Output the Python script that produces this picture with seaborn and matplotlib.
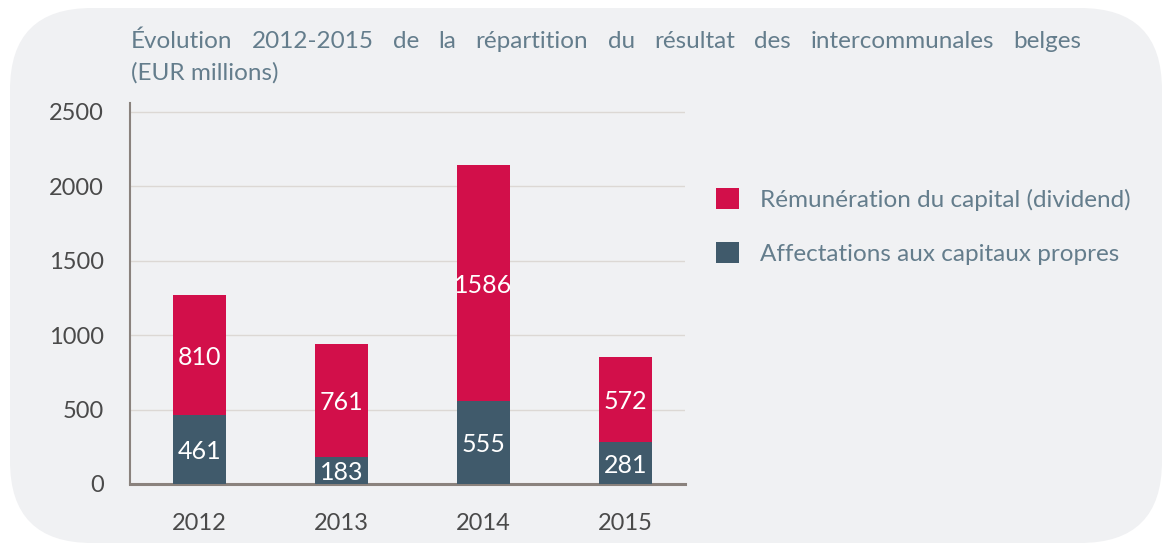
import matplotlib
matplotlib.use("Agg")
import matplotlib.pyplot as plt
import seaborn as sns
import pandas as pd
from matplotlib.patches import FancyBboxPatch, Patch

years = ["2012", "2013", "2014", "2015"]
affectations = [461, 183, 555, 281]
remuneration = [810, 761, 1586, 572]
series_names = ["Rémunération du capital (dividend)", "Affectations aux capitaux propres"]
yticks = [0, 500, 1000, 1500, 2000, 2500]
title_line1 = "Évolution 2012-2015 de la répartition du résultat des intercommunales belges"
title_line2 = "(EUR millions)"

RED = "#d20f4a"
BLUE = "#405a6b"
TITLE_C = "#647d8c"
TICK_C = "#4a4a4a"
SPINE_C = "#8a827d"
GRID_C = "#dcd8d4"
BG = "#f0f1f3"

sns.set_style("white")
plt.rcParams["font.family"] = ["Lato", "DejaVu Sans"]

df = pd.DataFrame({
    "year": years,
    "aff": affectations,
    "rem": remuneration,
})
df["total"] = df["aff"] + df["rem"]

W, H = 1168, 544
fig = plt.figure(figsize=(W / 100, H / 100), dpi=100, facecolor="white")

bg = FancyBboxPatch((10 / W, 1 - 543 / H), (1162 - 10) / W, (543 - 8) / H,
                    boxstyle="round,pad=0,rounding_size=0.07",
                    transform=fig.transFigure, facecolor=BG, edgecolor="none",
                    mutation_aspect=W / H, zorder=-10)
fig.patches.append(bg)

ax = fig.add_axes([130 / W, 1 - 484 / H, (685 - 130) / W, (484 - 103) / H])
ax.set_facecolor("none")
ax.set_zorder(2)

sns.barplot(data=df, x="year", y="total", color=RED, width=0.37, ax=ax,
            saturation=1, linewidth=0, zorder=3)
sns.barplot(data=df, x="year", y="aff", color=BLUE, width=0.37, ax=ax,
            saturation=1, linewidth=0, zorder=3)

for i, (a, r) in enumerate(zip(affectations, remuneration)):
    ax.text(i, a / 2, str(a), ha="center", va="center_baseline", color="white",
            fontsize=18, zorder=5)
    ax.text(i, a + r / 2, str(r), ha="center", va="center_baseline", color="white",
            fontsize=18, zorder=5)

ax.set_xlim(-0.49, 3.42)
ax.set_ylim(0, 2560)
ax.set_yticks(yticks)
ax.set_yticklabels([str(t) for t in yticks])
ax.yaxis.grid(True, color=GRID_C, linewidth=1.0, zorder=1)
ax.set_axisbelow(True)
ax.set_xlabel("")
ax.set_ylabel("")
for s in ["top", "right"]:
    ax.spines[s].set_visible(False)
ax.spines["left"].set_color(SPINE_C)
ax.spines["left"].set_linewidth(1.5)
ax.spines["bottom"].set_color(SPINE_C)
ax.spines["bottom"].set_linewidth(2.2)
ax.tick_params(axis="y", length=0, pad=19, labelsize=17, labelcolor=TICK_C)
ax.tick_params(axis="x", length=0, pad=21, labelsize=17, labelcolor=TICK_C)

# Title: first line justified between x=131 and x=1081 px
TFS = 17.5
renderer = fig.canvas.get_renderer()
words = title_line1.split(" ")
tmp = [fig.text(0, 0, w, fontsize=TFS) for w in words]
widths = [t.get_window_extent(renderer).width for t in tmp]
for t in tmp:
    t.remove()
x0, x1 = 131, 1081
gap = (x1 - x0 - sum(widths)) / (len(words) - 1)
x = x0
for w, wd in zip(words, widths):
    fig.text(x / W, 1 - 48 / H, w, ha="left", va="baseline", color=TITLE_C,
             fontsize=TFS)
    x += wd + gap
fig.text(x0 / W, 1 - 80 / H, title_line2, ha="left", va="baseline",
         color=TITLE_C, fontsize=TFS)

handles = [Patch(facecolor=RED, edgecolor="none"), Patch(facecolor=BLUE, edgecolor="none")]
leg = fig.legend(handles, series_names, loc="upper left",
                 bbox_to_anchor=(694 / W, 1 - 166 / H), frameon=False,
                 labelcolor=TITLE_C, handlelength=0.95,
                 handleheight=0.95, handletextpad=0.85, labelspacing=1.3,
                 prop={"size": 17.5})

fig.savefig("out.png", dpi=100, facecolor="white")
